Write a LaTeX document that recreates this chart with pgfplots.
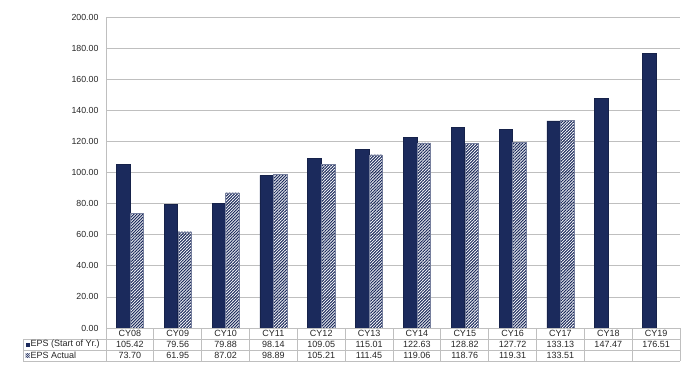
\documentclass[border=0pt]{standalone}
\usepackage{fontspec}
\setmainfont{Liberation Sans}
\usepackage{pgfplots}
\pgfplotsset{compat=1.18}
\usetikzlibrary{patterns.meta}
\definecolor{navy}{HTML}{1B2A5C}
\definecolor{gridgray}{HTML}{BFBFBF}
\definecolor{txt}{HTML}{262626}
\begin{document}
\begin{tikzpicture}[x=1pt,y=1pt]
\path (0,0) rectangle (700,369);
\begin{axis}[
  at={(106pt,41pt)}, anchor=south west,
  scale only axis, width=574pt, height=311pt,
  xmin=-0.5, xmax=11.5, ymin=0, ymax=200,
  ybar=0pt, bar width=13.5pt,
  ytick={0,20,...,200},
  ymajorgrids, grid style={gridgray, line width=0.8pt},
  axis line style={draw=none},
  major tick length=0pt,
  yticklabel style={/pgf/number format/.cd, fixed, fixed zerofill, precision=2, assume math mode=true, /tikz/.cd, font=\fontsize{8.8}{10}\selectfont, text=txt, xshift=-4pt},
  xtick={0,...,11},
  xticklabels={{CY08\\105.42\\73.70},{CY09\\79.56\\61.95},{CY10\\79.88\\87.02},{CY11\\98.14\\98.89},{CY12\\109.05\\105.21},{CY13\\115.01\\111.45},{CY14\\122.63\\119.06},{CY15\\128.82\\118.76},{CY16\\127.72\\119.31},{CY17\\133.13\\133.51},{CY18\\147.47\\~},{CY19\\176.51\\~}},
  xticklabel style={align=center, font=\fontsize{9}{11}\selectfont, text=txt, anchor=north, inner sep=0pt, yshift=-2.5pt},
  clip=false,
]
\addplot[fill=navy, draw=navy!80!black, line width=0.6pt] coordinates {
  (0,105.42) (1,79.56) (2,79.88) (3,98.14) (4,109.05) (5,115.01)
  (6,122.63) (7,128.82) (8,127.72) (9,133.13) (10,147.47) (11,176.51)};
\addplot[pattern={Lines[angle=45,distance=2.1pt,line width=1.05pt]}, pattern color=navy, draw=navy!60, line width=0.3pt] coordinates {
  (0,73.70) (1,61.95) (2,87.02) (3,98.89) (4,105.21) (5,111.45)
  (6,119.06) (7,118.76) (8,119.31) (9,133.51)};
\end{axis}
% data table grid
\begin{scope}[draw=gridgray, line width=0.8pt]
  \draw (106,41) -- (680,41);
  \draw (23,30) -- (680,30);
  \draw (23,19) -- (680,19);
  \draw (23,8) -- (680,8);
  \draw (23,8) -- (23,30);
  \draw (106,8) -- (106,352);
  \foreach \k in {1,...,12} {\draw ({106+\k*47.833},8) -- ({106+\k*47.833},41);}
\end{scope}
% legend keys in table
\fill[navy] (25.5,22.5) rectangle (29.5,26.5);
\node[anchor=west, inner sep=0pt, font=\fontsize{9}{10}\selectfont, text=txt] at (30.5,24.5) {EPS (Start of Yr.)};
\path[pattern={Lines[angle=45,distance=1.4pt,line width=0.6pt]}, pattern color=navy] (25.5,11.5) rectangle (29.5,15.5);
\node[anchor=west, inner sep=0pt, font=\fontsize{9}{10}\selectfont, text=txt] at (30.5,13.5) {EPS Actual};
\end{tikzpicture}
\end{document}
